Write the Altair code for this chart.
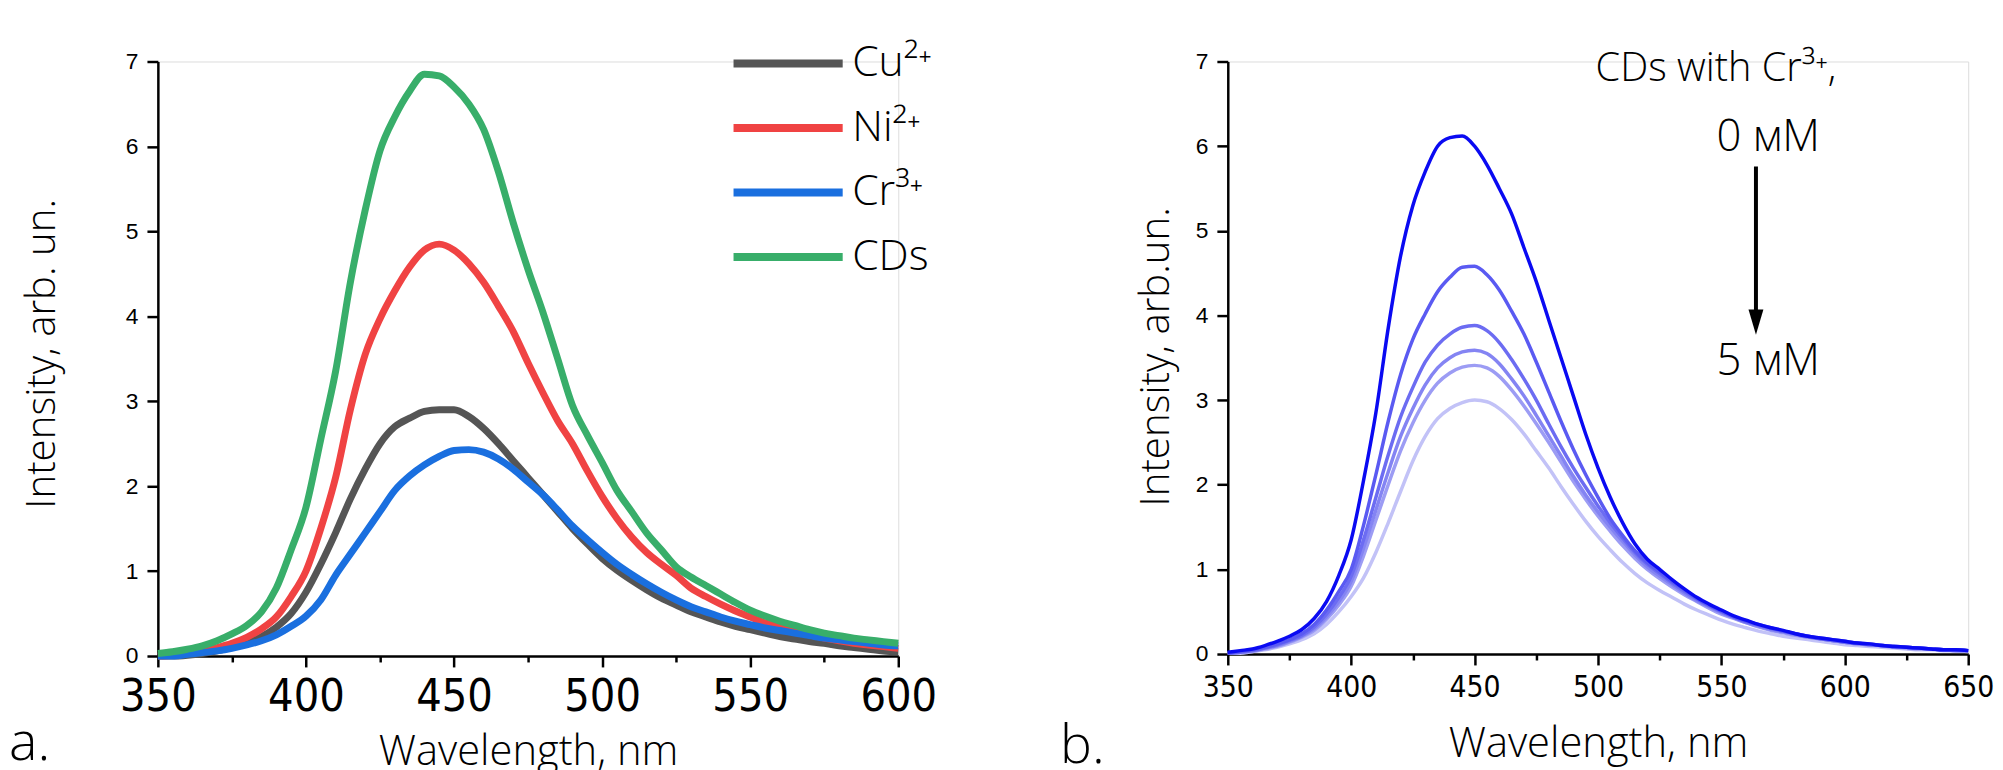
import altair as alt
import pandas as pd

# ---------------- data: panel a ----------------
wavelength_a = list(range(350, 601, 5))
cu = [0.00, 0.00, 0.01, 0.03, 0.06, 0.10, 0.16, 0.23, 0.34, 0.50,
      0.75, 1.08, 1.45, 1.85, 2.20, 2.50, 2.70, 2.80, 2.88, 2.90,
      2.90, 2.82, 2.68, 2.50, 2.30, 2.10, 1.90, 1.70, 1.50, 1.32,
      1.15, 1.01, 0.89, 0.78, 0.68, 0.60, 0.52, 0.46, 0.40, 0.35,
      0.31, 0.27, 0.23, 0.20, 0.17, 0.15, 0.12, 0.10, 0.08, 0.06, 0.05]
ni = [0.00, 0.01, 0.03, 0.06, 0.10, 0.15, 0.22, 0.32, 0.46, 0.70,
      1.00, 1.50, 2.10, 2.90, 3.55, 3.97, 4.30, 4.58, 4.78, 4.85,
      4.78, 4.62, 4.40, 4.12, 3.82, 3.45, 3.10, 2.77, 2.50, 2.18,
      1.88, 1.62, 1.40, 1.22, 1.08, 0.95, 0.80, 0.70, 0.61, 0.53,
      0.46, 0.39, 0.34, 0.29, 0.25, 0.21, 0.18, 0.15, 0.13, 0.11, 0.09]
cr = [0.00, 0.00, 0.02, 0.04, 0.06, 0.09, 0.13, 0.18, 0.25, 0.35,
      0.47, 0.66, 0.95, 1.20, 1.45, 1.70, 1.95, 2.12, 2.25, 2.35,
      2.42, 2.43, 2.40, 2.32, 2.20, 2.05, 1.90, 1.72, 1.53, 1.37,
      1.22, 1.08, 0.96, 0.85, 0.75, 0.66, 0.58, 0.52, 0.46, 0.41,
      0.37, 0.33, 0.30, 0.27, 0.24, 0.21, 0.19, 0.17, 0.15, 0.13, 0.12]
cds = [0.03, 0.05, 0.08, 0.12, 0.18, 0.26, 0.36, 0.52, 0.80, 1.25,
       1.75, 2.55, 3.35, 4.40, 5.25, 5.95, 6.35, 6.65, 6.85, 6.83,
       6.70, 6.50, 6.20, 5.70, 5.10, 4.55, 4.05, 3.50, 2.95, 2.60,
       2.28, 1.95, 1.70, 1.45, 1.25, 1.05, 0.93, 0.83, 0.73, 0.63,
       0.54, 0.47, 0.41, 0.36, 0.31, 0.27, 0.24, 0.21, 0.19, 0.17, 0.15]
names_a = ["Cu²⁺", "Ni²⁺", "Cr³⁺", "CDs"]
colors_a = ["#555555", "#F04343", "#1A6FDF", "#38AE6A"]

# ---------------- data: panel b ----------------
wavelength_b = list(range(350, 651, 5))
b0 = [0.02, 0.04, 0.06, 0.10, 0.15, 0.21, 0.29, 0.42, 0.62, 0.93,
      1.35, 2.05, 2.85, 3.85, 4.70, 5.30, 5.70, 6.00, 6.10, 6.12,
      6.00, 5.78, 5.50, 5.20, 4.80, 4.40, 3.95, 3.50, 3.05, 2.60,
      2.20, 1.85, 1.55, 1.30, 1.12,
      1.00, 0.88, 0.77, 0.67, 0.59, 0.52, 0.45, 0.40, 0.35, 0.31,
      0.28, 0.24, 0.21, 0.19, 0.17, 0.15, 0.13, 0.12, 0.10, 0.09,
      0.08, 0.07, 0.06, 0.05, 0.05, 0.04]
b1 = [0.01, 0.03, 0.05, 0.08, 0.12, 0.17, 0.24, 0.35, 0.52, 0.74,
      1.00, 1.52, 2.12, 2.75, 3.30, 3.72, 4.02, 4.28, 4.45, 4.57,
      4.58, 4.48, 4.30, 4.05, 3.78, 3.45, 3.10, 2.75, 2.42, 2.12,
      1.85, 1.60, 1.40, 1.22, 1.08,
      0.97, 0.86, 0.76, 0.66, 0.58, 0.51, 0.44, 0.39, 0.35, 0.31,
      0.27, 0.24, 0.21, 0.19, 0.17, 0.15, 0.13, 0.12, 0.10, 0.09,
      0.08, 0.07, 0.06, 0.05, 0.05, 0.04]
b2 = [0.01, 0.02, 0.04, 0.07, 0.11, 0.16, 0.22, 0.32, 0.47, 0.67,
      0.92, 1.35, 1.85, 2.35, 2.80, 3.15, 3.45, 3.65, 3.78, 3.86,
      3.88, 3.82, 3.68, 3.48, 3.25, 3.00, 2.72, 2.45, 2.20, 1.97,
      1.75, 1.55, 1.37, 1.20, 1.06,
      0.95, 0.84, 0.74, 0.65, 0.57, 0.50, 0.44, 0.38, 0.34, 0.30,
      0.27, 0.24, 0.21, 0.18, 0.16, 0.14, 0.13, 0.11, 0.10, 0.09,
      0.08, 0.07, 0.06, 0.05, 0.05, 0.04]
b3 = [0.01, 0.02, 0.04, 0.07, 0.10, 0.15, 0.21, 0.30, 0.44, 0.62,
      0.86, 1.25, 1.70, 2.15, 2.57, 2.90, 3.18, 3.38, 3.50, 3.57,
      3.59, 3.55, 3.43, 3.25, 3.05, 2.82, 2.58, 2.34, 2.10, 1.88,
      1.68, 1.50, 1.33, 1.17, 1.03,
      0.92, 0.82, 0.72, 0.63, 0.56, 0.49, 0.43, 0.37, 0.33, 0.29,
      0.26, 0.23, 0.20, 0.18, 0.16, 0.14, 0.12, 0.11, 0.10, 0.09,
      0.08, 0.07, 0.06, 0.05, 0.04, 0.04]
b4 = [0.01, 0.02, 0.03, 0.06, 0.09, 0.14, 0.20, 0.28, 0.41, 0.58,
      0.80, 1.16, 1.58, 2.00, 2.40, 2.73, 3.00, 3.20, 3.32, 3.39,
      3.41, 3.38, 3.28, 3.12, 2.93, 2.72, 2.50, 2.27, 2.04, 1.83,
      1.63, 1.45, 1.28, 1.13, 1.00,
      0.89, 0.79, 0.70, 0.62, 0.54, 0.47, 0.42, 0.37, 0.32, 0.28,
      0.25, 0.22, 0.20, 0.18, 0.16, 0.14, 0.12, 0.11, 0.10, 0.08,
      0.07, 0.06, 0.06, 0.05, 0.04, 0.04]
b5 = [0.01, 0.01, 0.03, 0.05, 0.08, 0.12, 0.17, 0.24, 0.35, 0.50,
      0.68, 0.90, 1.20, 1.55, 1.92, 2.28, 2.57, 2.78, 2.90, 2.97,
      3.00, 2.98, 2.90, 2.77, 2.60, 2.40, 2.20, 1.98, 1.77, 1.57,
      1.39, 1.23, 1.08, 0.95, 0.84,
      0.75, 0.67, 0.59, 0.52, 0.46, 0.40, 0.35, 0.31, 0.27, 0.24,
      0.21, 0.19, 0.17, 0.15, 0.13, 0.11, 0.10, 0.09, 0.08, 0.07,
      0.06, 0.05, 0.05, 0.04, 0.04, 0.03]
names_b = ["0 мМ", "1 мМ", "2 мМ", "3 мМ", "4 мМ", "5 мМ"]
colors_b = ["#0A0AF2", "#5A5AF2", "#6C6CF2", "#8484F3", "#9C9CF4", "#C2C2F7"]

# annotations of panel b (in data units)
title_text = ["CDs with Cr³⁺,"]
title_x = [547.8]
title_y = [6.765]
conc_text = ["0 мМ", "5 мМ"]
conc_x = [569.0, 569.0]
conc_y = [5.944, 3.295]
arrow_x = [564.0]
arrow_y_start = [5.76]
arrow_y_end = [3.95]
arrow_head_y = [3.92]

for s in (cu, ni, cr, cds):
    assert len(s) == len(wavelength_a)
for s in (b0, b1, b2, b3, b4, b5):
    assert len(s) == len(wavelength_b)

rows_a = []
for name, vals in zip(names_a, [cu, ni, cr, cds]):
    for w, v in zip(wavelength_a, vals):
        rows_a.append({"wl": w, "I": v, "series": name})
df_a = pd.DataFrame(rows_a)

rows_b = []
series_b = [b0, b1, b2, b3, b4, b5]
for idx in range(len(names_b) - 1, -1, -1):
    for w, v in zip(wavelength_b, series_b[idx]):
        rows_b.append({"wl": w, "I": v, "conc": names_b[idx]})
df_b = pd.DataFrame(rows_b)

df_title = pd.DataFrame({"wl": title_x, "I": title_y, "t": title_text})
df_conc = pd.DataFrame({"wl": conc_x, "I": conc_y, "t": conc_text})
df_arrow = pd.DataFrame({"wl": arrow_x, "y1": arrow_y_start, "y2": arrow_y_end, "yh": arrow_head_y})

TITLE_FONT = "Open Sans"
TICK_FONT = "Liberation Sans"
NARROW = "Liberation Sans Narrow, Arial Narrow, DejaVu Sans Condensed, sans-serif"

W = 746


def x_axis(xmax, label_size, title_y):
    return alt.Axis(
        values=list(range(350, xmax + 1, 25)),
        labelExpr="datum.value % 50 === 0 ? datum.label : ''",
        tickSize={"condition": {"test": "datum.value % 50 === 0", "value": 11}, "value": 6},
        tickWidth=2.5, tickColor="black", domainColor="black", domainWidth=2.5,
        labelFont=NARROW, labelFontSize=label_size, labelColor="black",
        labelPadding=8, labelFlush=False, labelOverlap=False, grid=False,
        title="Wavelength, nm", titleFont=TITLE_FONT, titleFontSize=42,
        titleFontWeight=300, titleColor="black",
        titleX=W / 2, titleY=title_y, titleAlign="center", titleBaseline="alphabetic",
    )


def y_axis(title, title_x, title_y):
    return alt.Axis(
        values=[v / 2 for v in range(0, 15)], format="d",
        labelExpr="datum.value % 1 === 0 ? datum.label : ''",
        tickSize={"condition": {"test": "datum.value % 1 === 0", "value": 11}, "value": 6},
        tickWidth=2.5, tickColor="black", domainColor="black", domainWidth=2.5,
        labelFont=TICK_FONT, labelFontSize=23, labelColor="black",
        labelPadding=9, labelOverlap=False, labelFlush=False, grid=False,
        title=title, titleFont=TITLE_FONT, titleFontSize=40.5, titleFontWeight=300,
        titleColor="black", titleAngle=270, titleX=title_x, titleY=title_y,
        titleAlign="center", titleBaseline="alphabetic",
    )


lines_a = alt.Chart(df_a).mark_line(strokeWidth=7, strokeJoin="round", interpolate="monotone").encode(
    x=alt.X("wl:Q", scale=alt.Scale(domain=[350, 600], nice=False, zero=False),
            axis=x_axis(600, 45, 109)),
    y=alt.Y("I:Q", scale=alt.Scale(domain=[0, 7], nice=False),
            axis=y_axis("Intensity, arb. un.", -104, 294)),
    color=alt.Color(
        "series:N",
        scale=alt.Scale(domain=names_a, range=colors_a),
        legend=alt.Legend(
            orient="none", legendX=580, legendY=-20.5, title=None,
            symbolType="M-3,0H3", symbolSize=1344, symbolStrokeWidth=8,
            symbolOffset=32.5, labelOffset=42, rowPadding=20, padding=0,
            labelFont=TITLE_FONT, labelFontSize=43, labelFontWeight=300,
            labelColor="black", labelLimit=0,
        ),
    ),
    detail="series:N",
)

label_a = alt.Chart(pd.DataFrame({"t": ["a."]})).mark_text(
    align="left", baseline="alphabetic", font=TITLE_FONT, fontSize=54,
    fontWeight=300, color="black",
).encode(x=alt.value(-150), y=alt.value(704), text="t:N")

panel_a = alt.layer(lines_a, label_a).properties(width=W, height=599)

x_b = alt.X("wl:Q", scale=alt.Scale(domain=[350, 650], nice=False, zero=False),
            axis=x_axis(650, 30, 103))
y_b = alt.Y("I:Q", scale=alt.Scale(domain=[0, 7], nice=False),
            axis=y_axis("Intensity, arb.un.", -60, 297))

lines_b = alt.Chart(df_b).mark_line(strokeWidth=3.5, strokeJoin="round", interpolate="monotone").encode(
    x=x_b, y=y_b,
    color=alt.Color("conc:N", scale=alt.Scale(domain=names_b, range=colors_b), legend=None),
    detail="conc:N",
)

title_b = alt.Chart(df_title).mark_text(
    align="center", baseline="alphabetic", font=TITLE_FONT, fontSize=40,
    fontWeight=300, color="black",
).encode(x=alt.X("wl:Q"), y=alt.Y("I:Q"), text="t:N")

conc_b = alt.Chart(df_conc).mark_text(
    align="center", baseline="alphabetic", font=TITLE_FONT, fontSize=44,
    fontWeight=300, color="black",
).encode(x=alt.X("wl:Q"), y=alt.Y("I:Q"), text="t:N")

shaft = alt.Chart(df_arrow).mark_rule(color="black", strokeWidth=4).encode(
    x=alt.X("wl:Q"), y=alt.Y("y1:Q"), y2="y2:Q"
)
head = alt.Chart(df_arrow).mark_point(
    shape="M-1,-1.7L1,-1.7L0,1.7Z", size=225, filled=True, color="black", opacity=1
).encode(x=alt.X("wl:Q"), y=alt.Y("yh:Q"))

label_b = alt.Chart(pd.DataFrame({"t": ["b."]})).mark_text(
    align="left", baseline="alphabetic", font=TITLE_FONT, fontSize=54,
    fontWeight=300, color="black",
).encode(x=alt.value(-169), y=alt.value(707), text="t:N")

panel_b = alt.layer(lines_b, title_b, conc_b, shaft, head, label_b).properties(width=W, height=597)

chart = alt.hconcat(panel_a, panel_b, spacing=332, bounds="flush").resolve_scale(
    color="independent"
).properties(
    padding={"left": 0, "top": 30, "right": 0, "bottom": 0}
).configure_view(stroke=None).configure(background="white")

chart.save("out.html", embed_options={"renderer": "svg", "actions": False})
